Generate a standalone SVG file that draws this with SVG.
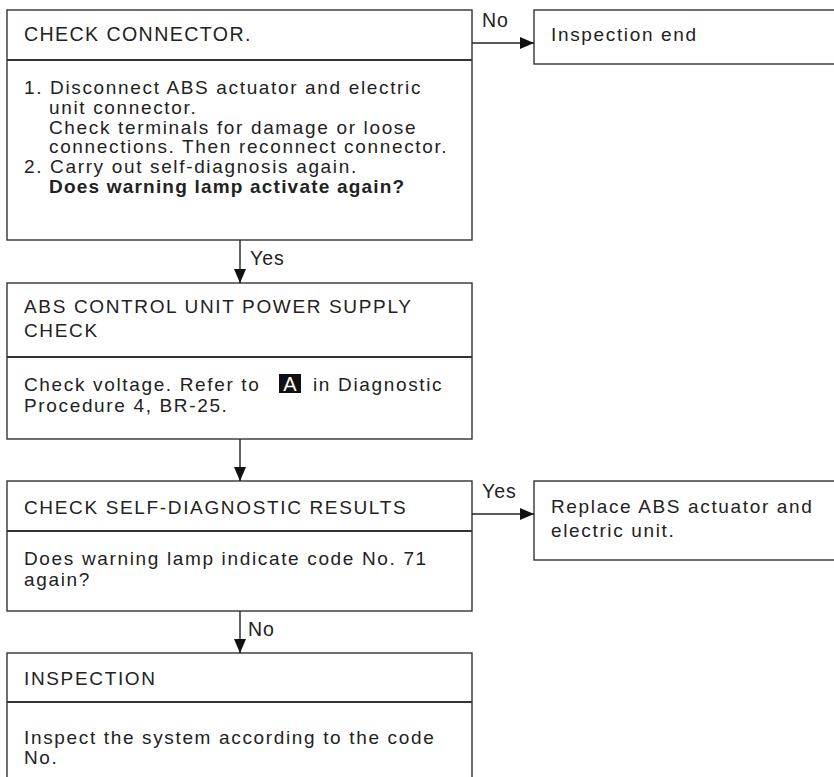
<svg xmlns="http://www.w3.org/2000/svg" width="834" height="777" viewBox="0 0 834 777">
<style>
  .box{fill:#fff;stroke:#333;stroke-width:1.4}
  .div{stroke:#333;stroke-width:2}
  .t{font-family:"Liberation Sans",Arial,sans-serif;font-size:19px;letter-spacing:1.65px;fill:#222}
  .b{font-weight:bold;letter-spacing:1.2px}
  .lbl{font-family:"Liberation Sans",Arial,sans-serif;font-size:19.5px;letter-spacing:1px;fill:#222}
  .ln{stroke:#222;stroke-width:1.4;fill:none}
</style>
<defs>
  <marker id="ah" viewBox="0 0 14 12" refX="14" refY="6" markerWidth="14" markerHeight="12" markerUnits="userSpaceOnUse" orient="auto">
    <path d="M0,0 L14,6 L0,12 Z" fill="#111"/>
  </marker>
</defs>
<rect width="834" height="777" fill="#fff"/>

<g id="n1">
  <rect class="box" x="7" y="10" width="465" height="230"/>
  <line class="div" x1="7" y1="60" x2="472" y2="60"/>
  <text class="t" x="24" y="41" style="font-size:19.6px;letter-spacing:1.4px">CHECK CONNECTOR.</text>
  <text class="t" x="24" y="94">1. Disconnect ABS actuator and electric</text>
  <text class="t" x="49" y="113.8">unit connector.</text>
  <text class="t" x="49" y="133.6">Check terminals for damage or loose</text>
  <text class="t" x="49" y="153.4">connections. Then reconnect connector.</text>
  <text class="t" x="24" y="173.2">2. Carry out self-diagnosis again.</text>
  <text class="t b" x="49" y="193">Does warning lamp activate again?</text>
</g>

<g id="n2">
  <rect class="box" x="534" y="10" width="310" height="54"/>
  <text class="t" x="551" y="41">Inspection end</text>
</g>

<g id="n3">
  <rect class="box" x="7" y="283" width="465" height="156"/>
  <line class="div" x1="7" y1="357" x2="472" y2="357"/>
  <text class="t" x="24" y="313">ABS CONTROL UNIT POWER SUPPLY</text>
  <text class="t" x="24" y="337">CHECK</text>
  <text class="t" x="24" y="391">Check voltage. Refer to</text>
  <rect x="279" y="374" width="22" height="19" fill="#111"/>
  <text class="t" x="290" y="391" text-anchor="middle" style="fill:#fff;letter-spacing:0;font-size:20px">A</text>
  <text class="t" x="313" y="391">in Diagnostic</text>
  <text class="t" x="24" y="411.5">Procedure 4, BR-25.</text>
</g>

<g id="n4">
  <rect class="box" x="7" y="481" width="465" height="130"/>
  <line class="div" x1="7" y1="531" x2="472" y2="531"/>
  <text class="t" x="24" y="514">CHECK SELF-DIAGNOSTIC RESULTS</text>
  <text class="t" x="24" y="565">Does warning lamp indicate code No. 71</text>
  <text class="t" x="24" y="586">again?</text>
</g>

<g id="n5">
  <rect class="box" x="534" y="481" width="310" height="79"/>
  <text class="t" x="551" y="513">Replace ABS actuator and</text>
  <text class="t" x="551" y="537">electric unit.</text>
</g>

<g id="n6">
  <rect class="box" x="7" y="653" width="465" height="140"/>
  <line class="div" x1="7" y1="702" x2="472" y2="702"/>
  <text class="t" x="24" y="685">INSPECTION</text>
  <text class="t" x="24" y="744">Inspect the system according to the code</text>
  <text class="t" x="24" y="764">No.</text>
</g>

<g id="connectors">
  <line class="ln" x1="472" y1="43" x2="534" y2="43" marker-end="url(#ah)"/>
  <text class="lbl" x="482" y="27">No</text>
  <line class="ln" x1="240" y1="240" x2="240" y2="283" marker-end="url(#ah)"/>
  <text class="lbl" x="250" y="265">Yes</text>
  <line class="ln" x1="240" y1="439" x2="240" y2="481" marker-end="url(#ah)"/>
  <line class="ln" x1="472" y1="514" x2="534" y2="514" marker-end="url(#ah)"/>
  <text class="lbl" x="482" y="498">Yes</text>
  <line class="ln" x1="240" y1="611" x2="240" y2="653" marker-end="url(#ah)"/>
  <text class="lbl" x="248" y="636">No</text>
</g>
</svg>
